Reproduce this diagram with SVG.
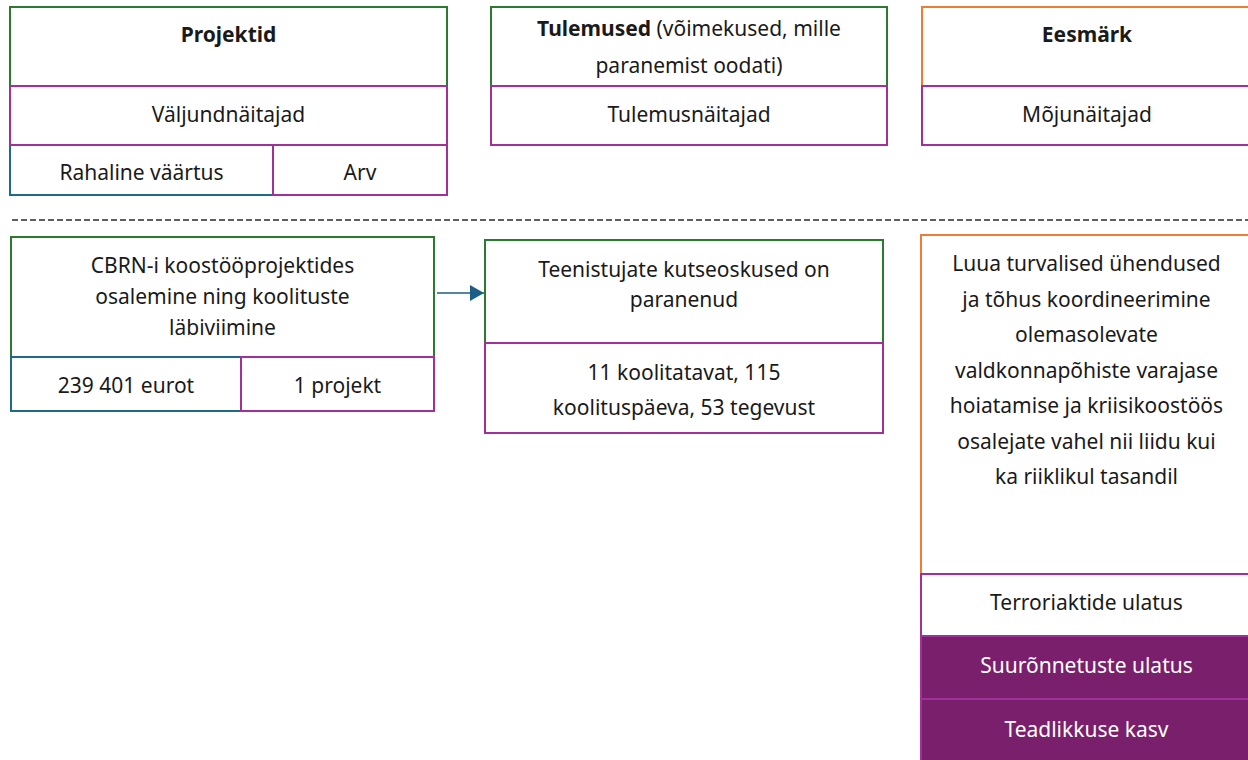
<svg xmlns="http://www.w3.org/2000/svg" width="1248" height="760" viewBox="0 0 1248 760">
<defs>
<style>
.g{fill:#fff;stroke:#2a7a30;stroke-width:2}
.p{fill:#fff;stroke:#a2309a;stroke-width:2}
.b{fill:#fff;stroke:#1e6a8c;stroke-width:2}
.o{fill:#fff;stroke:#ee7d33;stroke-width:2}
.pf{fill:#7a1f6b;stroke:#a2309a;stroke-width:2}
text{font-family:"Noto Sans","Open Sans","DejaVu Sans",sans-serif;font-size:21px;fill:#1a1a1a;text-anchor:middle}
.bd{font-weight:bold}
.w{fill:#ffffff}
</style>
<marker id="ah" viewBox="0 0 14 16" refX="14" refY="8" markerWidth="14" markerHeight="16" markerUnits="userSpaceOnUse" orient="auto">
<path d="M0,0 L14,8 L0,16 Z" fill="#1b5e85"/>
</marker>
</defs>
<rect width="1248" height="760" fill="#fff"/>

<g id="hdr-projektid">
<rect class="g" x="10" y="7" width="437" height="79"/>
<text class="bd" x="228.5" y="42">Projektid</text>
<rect class="b" x="10" y="145" width="263" height="50"/>
<text x="141.5" y="180">Rahaline väärtus</text>
<rect class="p" x="273" y="145" width="174" height="50"/>
<text x="360" y="180">Arv</text>
<rect class="p" x="10" y="86" width="437" height="59"/>
<text x="228.5" y="122">Väljundnäitajad</text>
</g>

<g id="hdr-tulemused">
<rect class="g" x="491" y="7" width="396" height="79"/>
<text x="689" y="36"><tspan class="bd">Tulemused</tspan> (võimekused, mille</text>
<text x="689" y="73">paranemist oodati)</text>
<rect class="p" x="491" y="86" width="396" height="59"/>
<text x="689" y="122">Tulemusnäitajad</text>
</g>

<g id="hdr-eesmark">
<rect class="o" x="922" y="7" width="330" height="79"/>
<text class="bd" x="1087" y="42">Eesmärk</text>
<rect class="p" x="922" y="86" width="330" height="59"/>
<text x="1087" y="122">Mõjunäitajad</text>
</g>

<line x1="12" y1="220" x2="1248" y2="220" stroke="#2b2b2b" stroke-width="1.5" stroke-dasharray="6 3"/>

<g id="node-cbrn">
<rect class="g" x="11" y="237" width="423" height="120"/>
<text x="222.5" y="273">CBRN-i koostööprojektides</text>
<text x="222.5" y="304">osalemine ning koolituste</text>
<text x="222.5" y="335">läbiviimine</text>
<rect class="b" x="11" y="357" width="230" height="54"/>
<text x="126" y="393">239 401 eurot</text>
<rect class="p" x="241" y="357" width="193" height="54"/>
<text x="337.5" y="393">1 projekt</text>
</g>

<g id="node-teenistujate">
<rect class="g" x="485" y="240" width="398" height="103"/>
<text x="684" y="277">Teenistujate kutseoskused on</text>
<text x="684" y="307">paranenud</text>
<rect class="p" x="485" y="343" width="398" height="90"/>
<text x="684" y="380">11 koolitatavat, 115</text>
<text x="684" y="415">koolituspäeva, 53 tegevust</text>
</g>

<g id="node-eesmark">
<rect class="o" x="921" y="235" width="331" height="339"/>
<text x="1086.5" y="271">Luua turvalised ühendused</text>
<text x="1086.5" y="306.5">ja tõhus koordineerimine</text>
<text x="1086.5" y="342">olemasolevate</text>
<text x="1086.5" y="377.5">valdkonnapõhiste varajase</text>
<text x="1086.5" y="413">hoiatamise ja kriisikoostöös</text>
<text x="1086.5" y="448.5">osalejate vahel nii liidu kui</text>
<text x="1086.5" y="484">ka riiklikul tasandil</text>
<rect class="p" x="921" y="574" width="331" height="62"/>
<text x="1086.5" y="610">Terroriaktide ulatus</text>
<rect class="pf" x="921" y="636" width="331" height="63"/>
<text class="w" x="1086.5" y="673">Suurõnnetuste ulatus</text>
<rect class="pf" x="921" y="699" width="331" height="63"/>
<text class="w" x="1086.5" y="737">Teadlikkuse kasv</text>
</g>

<g id="connectors">
<line x1="437" y1="293" x2="484" y2="293" stroke="#1b5e85" stroke-width="1.5" marker-end="url(#ah)"/>
</g>
</svg>
